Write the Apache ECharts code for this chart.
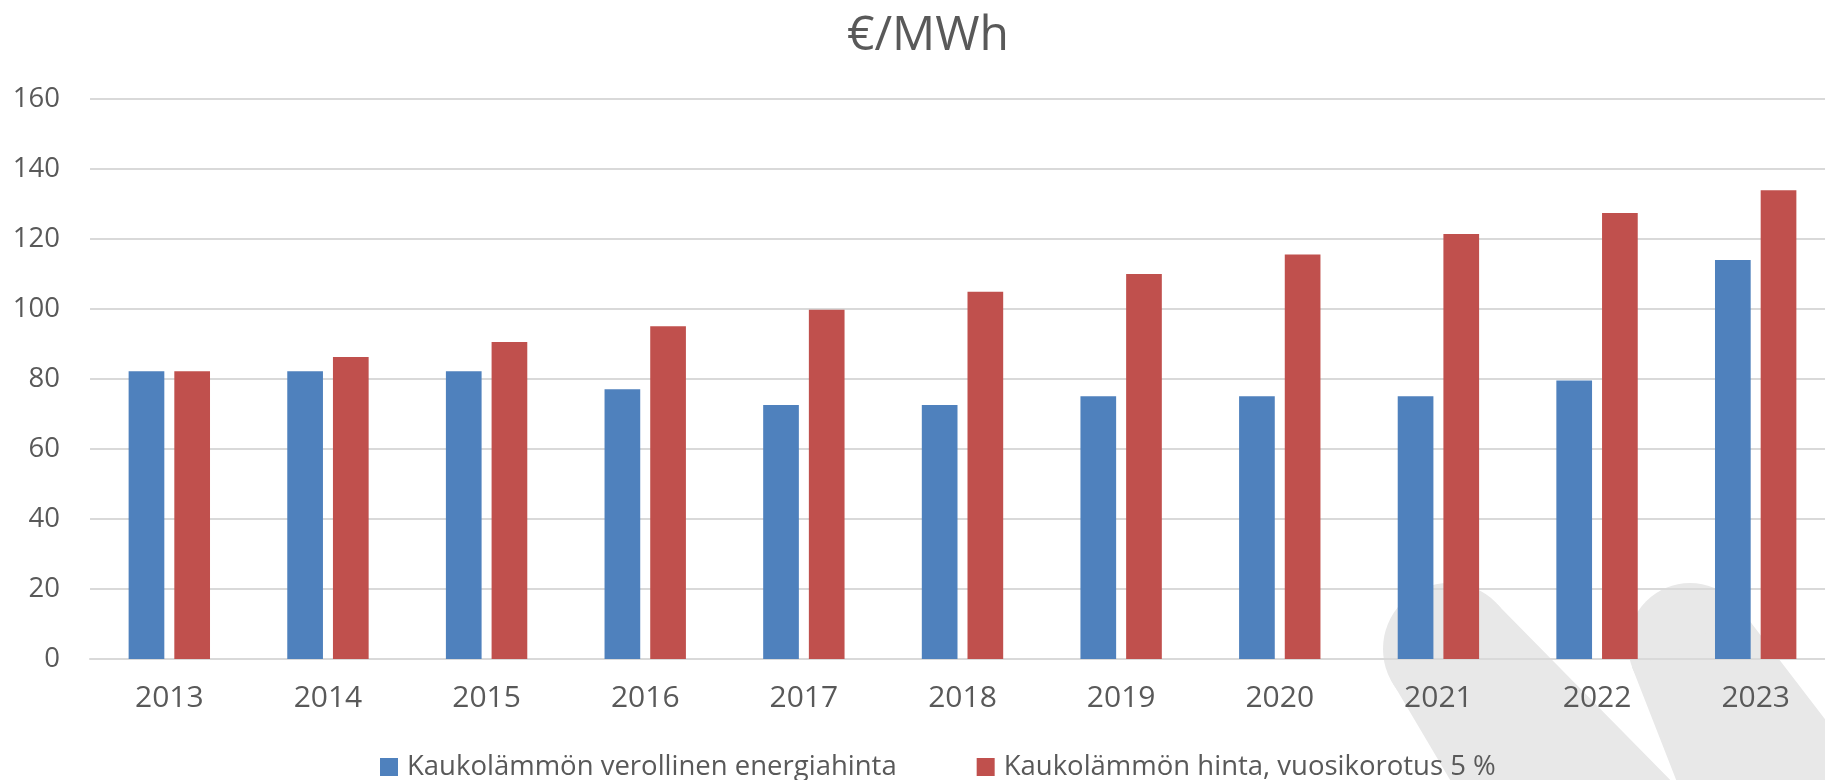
<!DOCTYPE html>
<html>
<head>
<meta charset="utf-8">
<title>€/MWh</title>
<script src="https://cdn.jsdelivr.net/npm/echarts@6/dist/echarts.min.js"></script>
<style>
  html, body { margin: 0; padding: 0; background: #fff; overflow: hidden; }
  /* kaavioalue jatkuu hieman oikean reunan yli, kuten alkuperäisessä */
  #chart { width: 1835px; height: 780px; }
</style>
</head>
<body>
<div id="chart"></div>
<script>
// vuodet
const years = ['2013', '2014', '2015', '2016', '2017', '2018', '2019', '2020', '2021', '2022', '2023'];

// arvot luettu kuvasta
const verollinenHinta = [82.2, 82.2, 82.2, 77.1, 72.6, 72.6, 75.1, 75.1, 75.1, 79.6, 114.0];
const hintaKorotus = [82.2, 86.3, 90.6, 95.1, 99.8, 104.9, 110.0, 115.6, 121.4, 127.4, 133.9];

const seriesNames = ['Kaukolämmön verollinen energiahinta', 'Kaukolämmön hinta, vuosikorotus 5 %'];
const colors = ['#4F81BD', '#C0504D'];

const textColor = '#595959';
const gridColor = '#D9D9D9';
const font = '"Open Sans", "DejaVu Sans", sans-serif';

const chart = echarts.init(document.getElementById('chart'));

// taustan koristekuviot (vesileima)
const wm = '#E8E8E8';
const watermark = [
  { type: 'circle', z: -10, silent: true, shape: { cx: 1449, cy: 649, r: 66 }, style: { fill: wm } },
  { type: 'polygon', z: -10, silent: true, shape: { points: [[1391, 680], [1449, 649], [1497, 604], [1690, 800], [1462, 800]] }, style: { fill: wm } },
  { type: 'circle', z: -10, silent: true, shape: { cx: 1690, cy: 645, r: 62 }, style: { fill: wm } },
  { type: 'polygon', z: -10, silent: true, shape: { points: [[1632, 667], [1690, 645], [1739, 607], [1887, 800], [1684, 800]] }, style: { fill: wm } }
];

const option = {
  animation: false,
  color: colors,
  textStyle: { fontFamily: font },
  title: {
    text: '€/MWh',
    left: 923,
    textAlign: 'center',
    top: 7,
    textStyle: { fontFamily: font, fontSize: 48, fontWeight: 'normal', color: textColor }
  },
  graphic: watermark,
  grid: {
    left: 90,
    right: 0,
    top: 99,
    bottom: 121,
    containLabel: false
  },
  legend: {
    left: 375,
    top: 748,
    itemWidth: 18,
    itemHeight: 18,
    itemGap: 80,
    icon: 'rect',
    textStyle: { fontFamily: font, fontSize: 27.5, color: textColor, padding: [0, 0, 0, 4] }
  },
  xAxis: {
    type: 'category',
    data: years,
    axisTick: { show: false },
    axisLine: { lineStyle: { color: gridColor, width: 2 } },
    axisLabel: { fontFamily: font, fontSize: 30, color: textColor, margin: 24 }
  },
  yAxis: {
    type: 'value',
    min: 0,
    max: 160,
    interval: 20,
    axisLine: { show: false },
    axisTick: { show: false },
    axisLabel: { fontFamily: font, fontSize: 27.5, color: textColor, margin: 30 },
    splitLine: { lineStyle: { color: gridColor, width: 2 } }
  },
  series: [
    {
      name: seriesNames[0],
      type: 'bar',
      data: verollinenHinta,
      barWidth: '22.5%',
      barGap: '28%',
      itemStyle: { color: colors[0] }
    },
    {
      name: seriesNames[1],
      type: 'bar',
      data: hintaKorotus,
      barWidth: '22.5%',
      barGap: '28%',
      itemStyle: { color: colors[1] }
    }
  ]
};

chart.setOption(option);
window.addEventListener('resize', () => chart.resize());
</script>
</body>
</html>
